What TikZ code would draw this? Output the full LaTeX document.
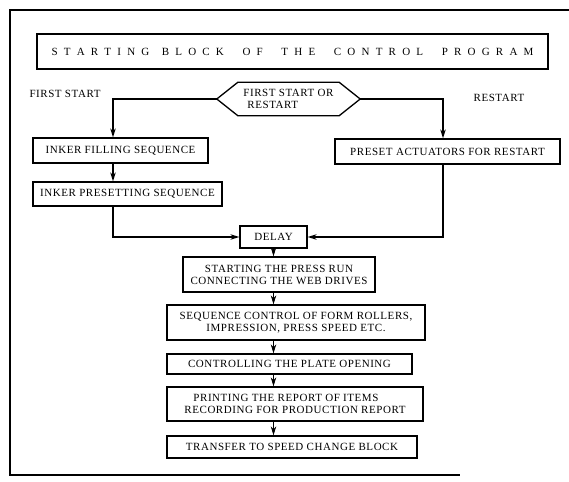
\documentclass[tikz,border=0pt]{standalone}
\usepackage{fontspec}
\setmainfont{Liberation Serif}[LetterSpace=5]
\usetikzlibrary{arrows.meta}
\newcommand{\tsp}{\hfill}
\newcommand{\wsp}{\hfill\hfill\hfill}
\begin{document}
\begin{tikzpicture}[x=1pt,y=-1pt,
  box/.style={draw,line width=1.3pt,inner sep=0pt,align=center,font=\fontsize{11}{12}\selectfont},
  lbl/.style={inner sep=0pt,font=\fontsize{11}{12}\selectfont},
  conn/.style={line width=1.1pt},
  arr/.style={conn,-{Stealth[length=9pt,width=5.5pt]}}]
\useasboundingbox (0,0) rectangle (569,481);
% frame
\draw[line width=1.3pt] (569,10) -- (10,10) -- (10,475) -- (460,475);
% title
\node[box,minimum width=511pt,minimum height=35pt,font=\fontsize{11}{12}\selectfont] (title) at (292.5,51.5)
 {\makebox[482pt][s]{S\tsp T\tsp A\tsp R\tsp T\tsp I\tsp N\tsp G\hfill\hfill B\tsp L\tsp O\tsp C\tsp K\wsp O\tsp F\wsp T\tsp H\tsp E\wsp C\tsp O\tsp N\tsp T\tsp R\tsp O\tsp L\wsp P\tsp R\tsp O\tsp G\tsp R\tsp A\tsp M}};
% decision hexagon
\node[lbl,minimum width=143pt,minimum height=33pt,align=left] (hex) at (288.5,99) {FIRST START OR\\\hspace*{4pt}RESTART};
\draw[line width=1.3pt] (hex.west) -- ([xshift=21pt]hex.north west) -- ([xshift=-21pt]hex.north east) -- (hex.east) -- ([xshift=-21pt]hex.south east) -- ([xshift=21pt]hex.south west) -- cycle;
\node[lbl] (lfirst) at (65,94) {FIRST START};
\node[lbl] (lrestart) at (499,98) {RESTART};
% boxes
\node[box,minimum width=175pt,minimum height=25pt] (fill) at (120.5,150.5) {INKER FILLING SEQUENCE};
\node[box,minimum width=225pt,minimum height=25pt] (preset) at (447.5,151.5) {PRESET ACTUATORS FOR RESTART};
\node[box,minimum width=189pt,minimum height=24pt] (presetting) at (127.5,194) {INKER PRESETTING SEQUENCE};
\node[box,minimum width=67pt,minimum height=22pt] (delay) at (273.5,237) {DELAY};
\node[box,minimum width=192pt,minimum height=35pt] (starting) at (279,274.5) {STARTING THE PRESS RUN\\CONNECTING THE WEB DRIVES};
\node[box,minimum width=258pt,minimum height=35pt] (sequence) at (296,322.5) {SEQUENCE CONTROL OF FORM ROLLERS,\\IMPRESSION, PRESS SPEED ETC.};
\node[box,minimum width=245pt,minimum height=20pt] (controlling) at (289.5,364) {CONTROLLING THE PLATE OPENING};
\node[box,minimum width=256pt,minimum height=34pt,align=left] (printing) at (295,404) {\hspace*{9pt}PRINTING THE REPORT OF ITEMS\\RECORDING FOR PRODUCTION REPORT};
\node[box,minimum width=250pt,minimum height=22pt] (transfer) at (292,447) {TRANSFER TO SPEED CHANGE BLOCK};
% connector columns
\coordinate (lx) at (113,0);
\coordinate (rx) at (443,0);
\coordinate (cx) at (273.5,0);
\draw[arr] (hex.west) -| (lx |- fill.north);
\draw[arr] (hex.east) -| (rx |- preset.north);
\draw[arr] (lx |- fill.south) -- (lx |- presetting.north);
\draw[arr] (lx |- presetting.south) |- (delay.west);
\draw[arr] (rx |- preset.south) |- (delay.east);
\draw[arr] (delay.south) -- (cx |- starting.north);
\draw[arr] (cx |- starting.south) -- (cx |- sequence.north);
\draw[arr] (cx |- sequence.south) -- (cx |- controlling.north);
\draw[arr] (cx |- controlling.south) -- (cx |- printing.north);
\draw[arr] (cx |- printing.south) -- (cx |- transfer.north);
\end{tikzpicture}
\end{document}
